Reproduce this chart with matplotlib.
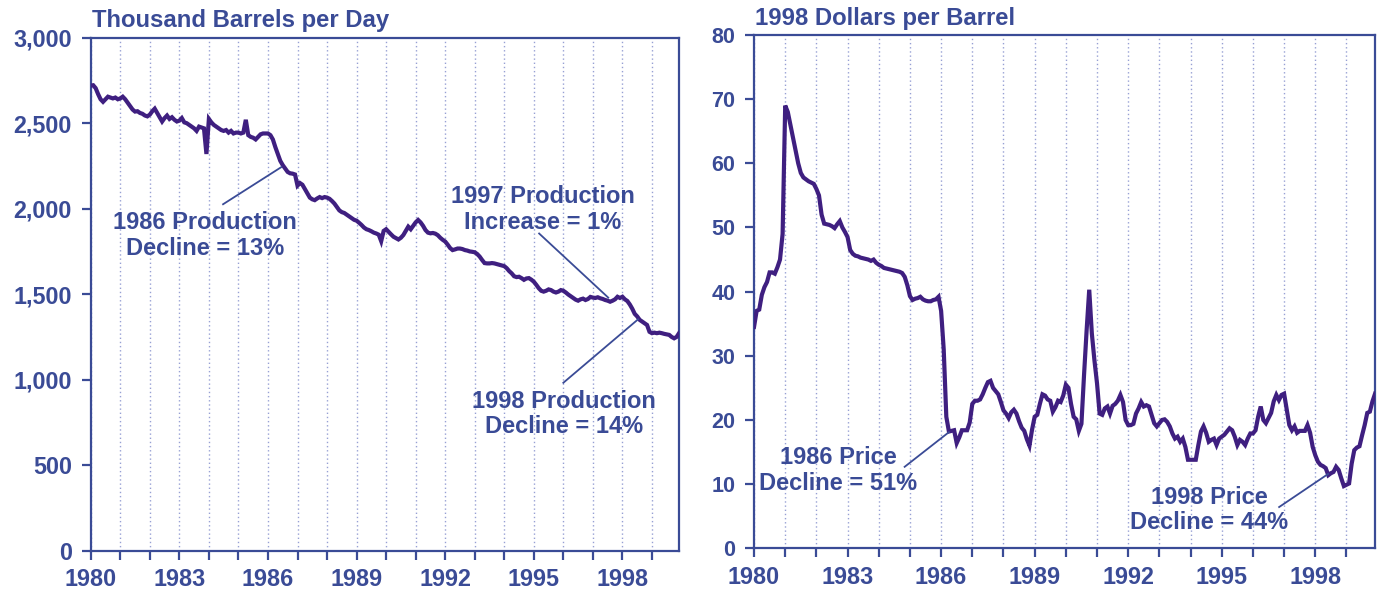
import matplotlib
matplotlib.use("Agg")
import matplotlib.pyplot as plt
from matplotlib.ticker import FixedLocator, FuncFormatter

# ---------------- data ----------------
start_year = 1980
# Alaska oil production, thousand barrels per day, monthly Jan 1980 - Dec 1999
production = [
    2720, 2722, 2705, 2670, 2640, 2625, 2640, 2655, 2650, 2645, 2650, 2640,  # 1980
    2645, 2655, 2640, 2620, 2600, 2580, 2568, 2570, 2560, 2555, 2545, 2540,  # 1981
    2550, 2570, 2585, 2560, 2535, 2510, 2530, 2545, 2525, 2535, 2520, 2510,  # 1982
    2515, 2530, 2505, 2500, 2490, 2480, 2470, 2455, 2480, 2475, 2470, 2320,  # 1983
    2525, 2505, 2490, 2480, 2470, 2460, 2455, 2460, 2445, 2455, 2440, 2445,  # 1984
    2445, 2440, 2445, 2520, 2430, 2420, 2415, 2405, 2420, 2435, 2440, 2440,  # 1985
    2440, 2430, 2405, 2360, 2320, 2280, 2255, 2235, 2215, 2207, 2205, 2200,  # 1986
    2135, 2150, 2140, 2115, 2090, 2065, 2055, 2050, 2060, 2068, 2062, 2068,  # 1987
    2065, 2058, 2045, 2030, 2010, 1990, 1980, 1975, 1965, 1955, 1945, 1935,  # 1988
    1930, 1918, 1905, 1890, 1880, 1875, 1868, 1860, 1855, 1848, 1810, 1870,  # 1989
    1880, 1865, 1850, 1836, 1828, 1820, 1830, 1846, 1870, 1895, 1880, 1900,  # 1990
    1920, 1934, 1920, 1900, 1875, 1860, 1856, 1858, 1854, 1845, 1830, 1818,  # 1991
    1808, 1790, 1770, 1758, 1762, 1767, 1767, 1764, 1758, 1755, 1750, 1748,  # 1992
    1745, 1735, 1720, 1700, 1682, 1680, 1680, 1682, 1680, 1676, 1672, 1668,  # 1993
    1664, 1652, 1635, 1622, 1605, 1600, 1602, 1594, 1584, 1592, 1594, 1585,  # 1994
    1573, 1555, 1535, 1520, 1515, 1520, 1528, 1524, 1515, 1510, 1515, 1524,  # 1995
    1520, 1510, 1498, 1488, 1478, 1468, 1462, 1470, 1474, 1466, 1472, 1484,  # 1996
    1480, 1478, 1482, 1476, 1472, 1466, 1462, 1456, 1462, 1470, 1485, 1478,  # 1997
    1485, 1470, 1460, 1440, 1415, 1385, 1370, 1350, 1340, 1330, 1320, 1280,  # 1998
    1272, 1275, 1272, 1275, 1272, 1268, 1265, 1262, 1250, 1242, 1250, 1272,  # 1999
]
# Real oil price, 1998 dollars per barrel, monthly Jan 1980 - Dec 1999
price = [
    34.5, 37.0, 37.2, 39.5, 40.7, 41.5, 43.0, 43.0, 42.8, 43.8, 45.0, 49.0,  # 1980
    69.0, 68.0, 66.0, 64.0, 62.0, 60.0, 58.5, 57.8, 57.5, 57.2, 57.0, 56.8,  # 1981
    56.0, 55.0, 52.0, 50.6, 50.5, 50.4, 50.2, 49.9, 50.5, 51.0, 50.0, 49.3,  # 1982
    48.5, 46.5, 45.9, 45.6, 45.5, 45.3, 45.2, 45.1, 45.0, 44.8, 45.0, 44.5,  # 1983
    44.2, 44.0, 43.7, 43.6, 43.5, 43.4, 43.3, 43.2, 43.1, 42.9, 42.3, 41.0,  # 1984
    39.3, 38.7, 38.9, 39.0, 39.2, 38.8, 38.6, 38.5, 38.5, 38.7, 38.8, 39.2,  # 1985
    37.0, 31.0, 20.5, 18.2, 18.3, 18.4, 16.4, 17.3, 18.4, 18.4, 18.4, 19.6,  # 1986
    22.5, 23.0, 23.0, 23.2, 24.0, 25.0, 25.9, 26.1, 25.0, 24.5, 24.0, 22.8,  # 1987
    21.5, 21.0, 20.3, 21.2, 21.6, 21.0, 19.8, 18.8, 18.3, 17.0, 16.0, 18.5,  # 1988
    20.5, 20.8, 22.5, 24.0, 23.8, 23.2, 23.0, 21.3, 22.0, 23.0, 22.8, 23.8,  # 1989
    25.5, 25.0, 22.5, 20.5, 20.1, 18.3, 19.4, 27.0, 34.0, 40.3, 33.5, 29.3,  # 1990
    25.7, 21.0, 20.8, 21.8, 22.1, 21.0, 22.2, 22.5, 23.0, 23.9, 22.8, 20.0,  # 1991
    19.2, 19.2, 19.4, 21.0, 21.8, 22.8, 22.1, 22.3, 22.1, 20.8, 19.5, 19.0,  # 1992
    19.5, 20.0, 20.1, 19.7, 19.0, 17.9, 17.1, 17.4, 16.6, 17.1, 15.8, 13.8,  # 1993
    13.8, 13.8, 13.8, 16.1, 18.2, 19.0, 18.0, 16.6, 16.9, 17.1, 16.1, 17.1,  # 1994
    17.4, 17.7, 18.2, 18.7, 18.4, 17.4, 16.1, 16.9, 16.6, 16.1, 17.1, 17.9,  # 1995
    17.9, 18.4, 20.5, 22.1, 20.0, 19.5, 20.3, 21.1, 22.9, 23.9, 23.1, 23.9,  # 1996
    24.1, 21.6, 19.2, 18.4, 19.0, 18.0, 18.3, 18.3, 18.3, 19.2, 18.0, 15.8,  # 1997
    14.5, 13.5, 13.0, 12.8, 12.5, 11.4, 11.7, 11.9, 12.7, 12.2, 10.9, 9.7,   # 1998
    9.9, 10.1, 13.2, 15.3, 15.7, 15.9, 17.6, 19.2, 21.1, 21.3, 22.9, 24.1,   # 1999
]
year_ticks = [1980, 1983, 1986, 1989, 1992, 1995, 1998]
all_years = list(range(1980, 2000))
prod_yticks = [0, 500, 1000, 1500, 2000, 2500, 3000]
price_yticks = [0, 10, 20, 30, 40, 50, 60, 70, 80]
left_title = "Thousand Barrels per Day"
right_title = "1998 Dollars per Barrel"

prod_notes = [
    ("1986 Production\nDecline = 13%", (1983.87, 1843), (1984.48, 2026), (1986.45, 2243)),
    ("1997 Production\nIncrease = 1%", (1995.30, 1996), (1995.18, 1855), (1997.52, 1480)),
    ("1998 Production\nDecline = 14%", (1996.02, 800), (1996.00, 982), (1998.53, 1353)),
]
price_notes = [
    ("1986 Price\nDecline = 51%", (1982.70, 12.08), (1984.83, 12.7), (1986.25, 18.1)),
    ("1998 Price\nDecline = 44%", (1994.59, 5.97), (1996.84, 6.43), (1998.41, 11.58)),
]

months = [start_year + i / 12 for i in range(len(production))]

# ---------------- style ----------------
plt.rcParams['font.family'] = ['Liberation Sans', 'DejaVu Sans']
plt.rcParams['font.weight'] = 'bold'
BLUE = '#3A4B96'
LINE = '#3F1F80'
GRID = '#97A0D4'

fig = plt.figure(figsize=(13.81, 5.92), dpi=100)
axL = fig.add_axes([0.0657, 0.0698, 0.4260, 0.8665])
axR = fig.add_axes([0.5460, 0.0738, 0.4497, 0.8671])


def style(ax, yticks, ylabelsize, fmt):
    ax.set_xlim(1980, 1999 + 11 / 12)
    ax.set_ylim(yticks[0], yticks[-1])
    ax.xaxis.set_major_locator(FixedLocator(year_ticks))
    ax.xaxis.set_minor_locator(FixedLocator(all_years))
    ax.set_xticklabels([str(y) for y in year_ticks])
    ax.set_yticks(yticks)
    ax.yaxis.set_major_formatter(FuncFormatter(fmt))
    for s in ax.spines.values():
        s.set_color(BLUE)
        s.set_linewidth(1.6)
    ax.tick_params(axis='both', which='both', direction='out', color=BLUE,
                   width=1.6, length=6.5, labelcolor=BLUE)
    ax.tick_params(axis='x', which='major', labelsize=16.8, pad=6)
    ax.tick_params(axis='y', which='major', labelsize=ylabelsize, pad=7)
    for lab in ax.get_xticklabels() + ax.get_yticklabels():
        lab.set_fontweight('bold')
    ax.grid(axis='x', which='both', linestyle=(0, (1, 2)), color=GRID, linewidth=1.0)
    ax.set_axisbelow(True)


style(axL, prod_yticks, 16.8, lambda v, p: f"{int(v):,}")
style(axR, price_yticks, 15.5, lambda v, p: f"{int(v)}")

axL.plot(months, production, color=LINE, linewidth=3.0, solid_joinstyle='miter', zorder=3)
axR.plot(months, price, color=LINE, linewidth=3.0, solid_joinstyle='miter', zorder=3)

axL.text(0.003, 1.021, left_title, transform=axL.transAxes, ha='left', va='baseline',
         fontsize=17.2, fontweight='bold', color=BLUE)
axR.text(0.002, 1.0195, right_title, transform=axR.transAxes, ha='left', va='baseline',
         fontsize=17.2, fontweight='bold', color=BLUE)

for ax, notes in ((axL, prod_notes), (axR, price_notes)):
    for txt, tpos, p0, p1 in notes:
        ax.text(tpos[0], tpos[1], txt, ha='center', va='center', fontsize=17,
                fontweight='bold', color=BLUE, linespacing=1.15, zorder=4)
        ax.plot([p0[0], p1[0]], [p0[1], p1[1]], color=BLUE, linewidth=1.3, zorder=4)

fig.savefig('out.png', dpi=100)
